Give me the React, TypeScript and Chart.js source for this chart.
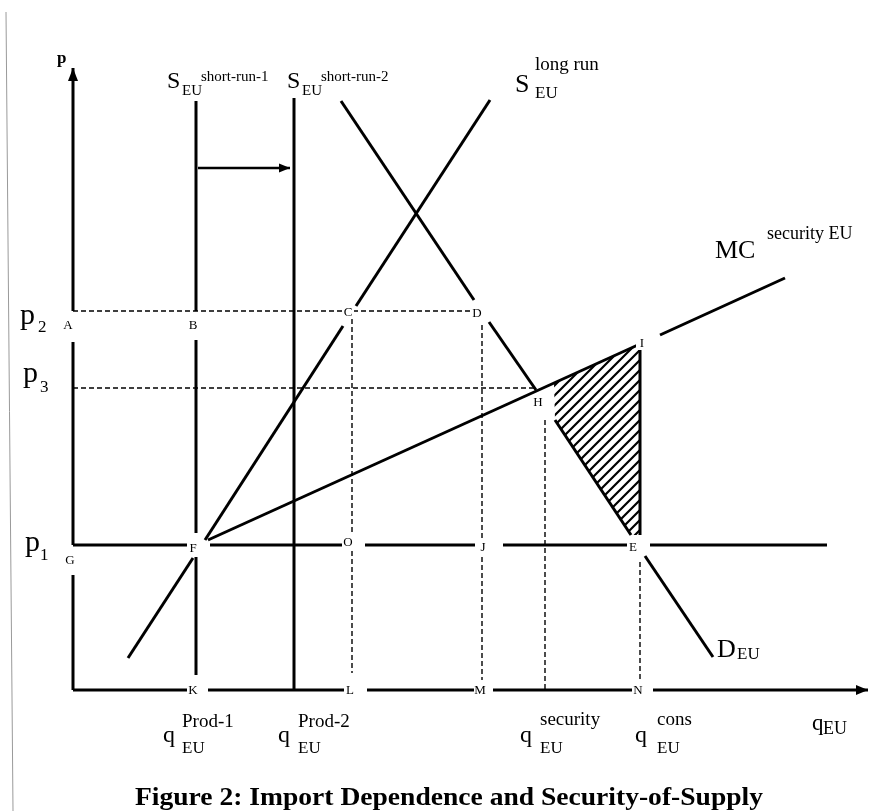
import React, { useEffect, useRef } from "react";
import { Chart, registerables } from "chart.js";
Chart.register(...registerables);

type Pt = [number, number];
type Seg = Pt[];

// ---- Economic levels (chart units: q = quantity, p = price) ----
const P1 = 145;
const P2 = 379;
const P3 = 302;
const Q_PROD1 = 123;
const Q_PROD2 = 221;
const Q_C = 279;
const Q_D = 409;
const Q_SEC = 472;
const Q_CONS = 567;
const P_I = 346;

// ---- Axes (broken where labels sit) ----
const yAxisSegs: Seg[] = [[[0, 622], [0, P2]], [[0, 348], [0, P1]], [[0, 115], [0, 0]]];
const xAxisSegs: Seg[] = [[[0, 0], [114, 0]], [[135, 0], [272, 0]], [[294, 0], [402, 0]], [[420, 0], [559, 0]], [[580, 0], [795, 0]]];

// ---- World price p1 line ----
const p1Segs: Seg[] = [[[0, P1], [117, P1]], [[137, P1], [270, P1]], [[292, P1], [402, P1]], [[430, P1], [559, P1]], [[577, P1], [754, P1]]];

// ---- Supply curves ----
const shortRun1Segs: Seg[] = [[[Q_PROD1, 589], [Q_PROD1, P2]], [[Q_PROD1, 350], [Q_PROD1, 157]], [[Q_PROD1, 133], [Q_PROD1, 15]]];
const shortRun2Segs: Seg[] = [[[Q_PROD2, 592], [Q_PROD2, 0]]];
const longRunSegs: Seg[] = [[[55, 32], [120, 132]], [[132, 150], [270, 364]], [[283, 384], [417, 590]]];

// ---- Demand ----
const demandSegs: Seg[] = [[[268, 589], [401, 390]], [[416, 368], [463, 300]], [[482, 270], [558, 155]], [[572, 134], [640, 33]]];

// ---- Marginal cost of security ----
const mcSegs: Seg[] = [[[135, 150], [Q_CONS, P_I]], [[587, 355], [712, 412]]];

// ---- Shift arrow between short-run supplies ----
const shiftArrow: Seg = [[125, 522], [217, 522]];

// ---- Dashed guide lines ----
const dashedSegs: Seg[] = [
  [[0, P2], [402, P2]],
  [[0, P3], [462, P3]],
  [[Q_C, P2], [Q_C, 17]],
  [[Q_D, 365], [Q_D, 10]],
  [[Q_SEC, 270], [Q_SEC, 0]],
  [[Q_CONS, 128], [Q_CONS, 10]],
];
const solidIE: Seg = [[Q_CONS, P_I], [Q_CONS, 155]];

// ---- Hatched welfare triangle ----
const hatchPoly: Seg = [[481, 307], [Q_CONS, P_I], [Q_CONS, 155], [558, 155], [482, 270], [481, 307]];

// ---- Page border (scan frame) ----
const borderSeg: Seg = [[-67, 678], [-60, -121]];

// ---- Point letters ----
const pointLetters: { t: string; q: number; p: number }[] = [
  { t: "A", q: -5, p: 365 },
  { t: "B", q: 120, p: 365 },
  { t: "C", q: 275, p: 378 },
  { t: "D", q: 404, p: 377 },
  { t: "F", q: 120, p: 142 },
  { t: "G", q: -3, p: 130 },
  { t: "O", q: 275, p: 148 },
  { t: "H", q: 465, p: 288 },
  { t: "I", q: 569, p: 347 },
  { t: "J", q: 410, p: 143 },
  { t: "E", q: 560, p: 143 },
  { t: "K", q: 120, p: 0 },
  { t: "L", q: 277, p: 0 },
  { t: "M", q: 407, p: 0 },
  { t: "N", q: 565, p: 0 },
];

type Run = { t: string; size: number; dx: number; dy: number; bold?: boolean; align?: CanvasTextAlign; fitWidth?: number };
type RichLabel = { q: number; p: number; runs: Run[] };

const TITLE = "Figure 2: Import Dependence and Security-of-Supply";

const richLabels: RichLabel[] = [
  { q: 94, p: 602, runs: [{ t: "S", size: 24, dx: 0, dy: 0 }, { t: "EU", size: 15, dx: 15, dy: 7 }, { t: "short-run-1", size: 15, dx: 34, dy: -7 }] },
  { q: 214, p: 602, runs: [{ t: "S", size: 24, dx: 0, dy: 0 }, { t: "EU", size: 15, dx: 15, dy: 7 }, { t: "short-run-2", size: 15, dx: 34, dy: -7 }] },
  { q: 442, p: 598, runs: [{ t: "S", size: 26, dx: 0, dy: 0 }, { t: "long run", size: 19, dx: 20, dy: -22 }, { t: "EU", size: 17, dx: 20, dy: 6 }] },
  { q: 642, p: 432, runs: [{ t: "MC", size: 26, dx: 0, dy: 0 }, { t: "security EU", size: 18, dx: 52, dy: -19 }] },
  { q: 644, p: 33, runs: [{ t: "D", size: 26, dx: 0, dy: 0 }, { t: "EU", size: 17, dx: 20, dy: 2 }] },
  { q: 739, p: -40, runs: [{ t: "q", size: 23, dx: 0, dy: 0 }, { t: "EU", size: 18, dx: 11, dy: 4 }] },
  { q: 90, p: -52, runs: [{ t: "q", size: 24, dx: 0, dy: 0 }, { t: "Prod-1", size: 19, dx: 19, dy: -15 }, { t: "EU", size: 17, dx: 19, dy: 11 }] },
  { q: 205, p: -52, runs: [{ t: "q", size: 24, dx: 0, dy: 0 }, { t: "Prod-2", size: 19, dx: 20, dy: -15 }, { t: "EU", size: 17, dx: 20, dy: 11 }] },
  { q: 447, p: -52, runs: [{ t: "q", size: 24, dx: 0, dy: 0 }, { t: "security", size: 19, dx: 20, dy: -17 }, { t: "EU", size: 17, dx: 20, dy: 11 }] },
  { q: 562, p: -52, runs: [{ t: "q", size: 24, dx: 0, dy: 0 }, { t: "cons", size: 19, dx: 22, dy: -17 }, { t: "EU", size: 17, dx: 22, dy: 11 }] },
  { q: -53, p: 366, runs: [{ t: "p", size: 30, dx: 0, dy: 0 }, { t: "2", size: 17, dx: 18, dy: 8 }] },
  { q: -50, p: 308, runs: [{ t: "p", size: 30, dx: 0, dy: 0 }, { t: "3", size: 17, dx: 17, dy: 10 }] },
  { q: -48, p: 139, runs: [{ t: "p", size: 30, dx: 0, dy: 0 }, { t: "1", size: 17, dx: 15, dy: 9 }] },
  { q: -16, p: 627, runs: [{ t: "p", size: 17, dx: 0, dy: 0, bold: true }] },
  { q: 376, p: -115, runs: [{ t: TITLE, size: 25, dx: 0, dy: 0, bold: true, align: "center", fitWidth: 628 }] },
];

const FONT = "'Liberation Serif', 'Times New Roman', serif";

function lineDs(seg: Seg, width: number, dash: number[] = [], color = "#000") {
  return {
    data: seg.map(([x, y]) => ({ x, y })),
    borderColor: color,
    borderWidth: width,
    borderDash: dash,
    borderCapStyle: "butt" as const,
    pointRadius: 0,
    showLine: true,
    fill: false,
    tension: 0,
  };
}

function makeHatch(): CanvasPattern | string {
  const s = 10;
  const c = document.createElement("canvas");
  c.width = s;
  c.height = s;
  const g = c.getContext("2d");
  if (!g) return "#000";
  g.strokeStyle = "#000";
  g.lineWidth = 2.2;
  g.beginPath();
  g.moveTo(-1, s + 1);
  g.lineTo(s + 1, -1);
  g.moveTo(-s / 2 - 1, s / 2 + 1);
  g.lineTo(s / 2 + 1, -s / 2 - 1);
  g.moveTo(s / 2 - 1, s * 1.5 + 1);
  g.lineTo(s * 1.5 + 1, s / 2 - 1);
  g.stroke();
  return g.createPattern(c, "repeat") || "#000";
}

function drawArrow(ctx: CanvasRenderingContext2D, x: number, y: number, dx: number, dy: number, len: number, half: number) {
  const px = -dy, py = dx;
  ctx.beginPath();
  ctx.moveTo(x, y);
  ctx.lineTo(x - dx * len + px * half, y - dy * len + py * half);
  ctx.lineTo(x - dx * len - px * half, y - dy * len - py * half);
  ctx.closePath();
  ctx.fill();
}

const decor = {
  id: "decor",
  afterDatasetsDraw(chart: any) {
    const ctx: CanvasRenderingContext2D = chart.ctx;
    const xs = chart.scales.x, ys = chart.scales.y;
    const X = (q: number) => xs.getPixelForValue(q);
    const Y = (p: number) => ys.getPixelForValue(p);
    ctx.save();
    ctx.fillStyle = "#000";
    // arrowheads
    drawArrow(ctx, X(0), Y(622), 0, -1, 13, 5);
    drawArrow(ctx, X(795), Y(0), 1, 0, 12, 5);
    drawArrow(ctx, X(shiftArrow[1][0]), Y(shiftArrow[1][1]), 1, 0, 11, 4.5);
    // point letters
    ctx.font = `13px ${FONT}`;
    ctx.textAlign = "center";
    ctx.textBaseline = "middle";
    for (const l of pointLetters) {
      const x = X(l.q), y = Y(l.p);
      ctx.fillStyle = "#fff";
      ctx.fillRect(x - 6, y - 7, 12, 14);
      ctx.fillStyle = "#000";
      ctx.fillText(l.t, x, y + 1);
    }
    // rich labels
    ctx.textBaseline = "alphabetic";
    for (const r of richLabels) {
      const x0 = X(r.q), y0 = Y(r.p);
      for (const run of r.runs) {
        ctx.font = `${run.bold ? "bold " : ""}${run.size}px ${FONT}`;
        ctx.textAlign = run.align || "left";
        if (run.fitWidth) {
          const w = ctx.measureText(run.t).width;
          const k = run.fitWidth / w;
          ctx.save();
          ctx.translate(x0 + run.dx, y0 + run.dy);
          ctx.scale(k, 1);
          ctx.fillText(run.t, 0, 0);
          ctx.restore();
        } else {
          ctx.fillText(run.t, x0 + run.dx, y0 + run.dy);
        }
      }
    }
    ctx.restore();
  },
};

export default function App() {
  const ref = useRef<HTMLCanvasElement>(null);
  useEffect(() => {
    const canvas = ref.current;
    if (!canvas) return;
    const hatch = makeHatch();
    const datasets: any[] = [];
    datasets.push({
      data: hatchPoly.map(([x, y]) => ({ x, y })),
      borderWidth: 0,
      borderColor: "rgba(0,0,0,0)",
      backgroundColor: hatch,
      fill: "shape",
      showLine: true,
      pointRadius: 0,
      tension: 0,
    });
    datasets.push(lineDs(borderSeg, 1, [], "#9a9a9a"));
    for (const s of dashedSegs) datasets.push(lineDs(s, 1.4, [5, 3]));
    for (const s of yAxisSegs) datasets.push(lineDs(s, 3));
    for (const s of xAxisSegs) datasets.push(lineDs(s, 3));
    for (const s of p1Segs) datasets.push(lineDs(s, 3));
    for (const s of shortRun1Segs) datasets.push(lineDs(s, 3));
    for (const s of shortRun2Segs) datasets.push(lineDs(s, 3));
    for (const s of longRunSegs) datasets.push(lineDs(s, 3));
    for (const s of demandSegs) datasets.push(lineDs(s, 3));
    for (const s of mcSegs) datasets.push(lineDs(s, 3));
    datasets.push(lineDs(solidIE, 3));
    datasets.push(lineDs(shiftArrow, 2.5));

    const chart = new Chart(canvas, {
      type: "scatter",
      data: { datasets },
      options: {
        responsive: false,
        maintainAspectRatio: false,
        animation: false,
        layout: { padding: 0 },
        plugins: { legend: { display: false }, tooltip: { enabled: false } },
        scales: {
          x: { type: "linear", min: -73, max: 816, display: false },
          y: { type: "linear", min: -121, max: 690, display: false },
        },
      },
      plugins: [decor],
    } as any);
    return () => chart.destroy();
  }, []);
  return (
    <div style={{ position: "absolute", left: 0, top: 0, width: 889, height: 811, background: "#fff" }}>
      <canvas ref={ref} width={889} height={811} style={{ width: 889, height: 811, display: "block" }} />
    </div>
  );
}
